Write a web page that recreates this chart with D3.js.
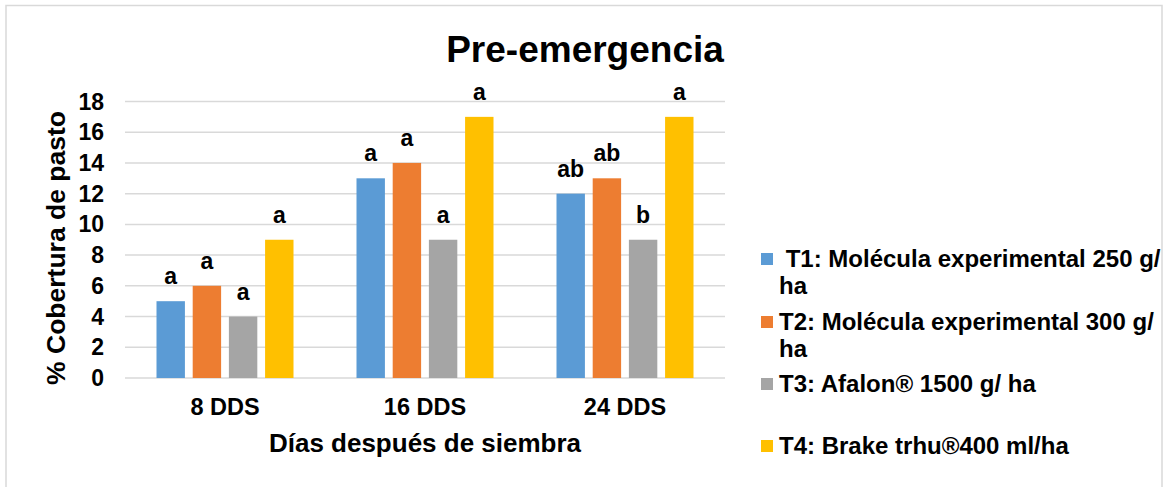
<!DOCTYPE html>
<html lang="es">
	<head>
		<meta charset="utf-8">
		<title>Pre-emergencia</title>
		<style>
			html, body {
				margin: 0;
				background: #fff;
			}
			svg {
				display: block;
				font-family: 'Liberation Sans', Arial, sans-serif;
				font-weight: bold;
			}
		</style>
	</head>
	<body>
		<script src="https://cdn.jsdelivr.net/npm/d3@7/dist/d3.min.js"></script>
		<script>
		const categories = ['8 DDS', '16 DDS', '24 DDS']
		const treatments = ['T1', 'T2', 'T3', 'T4']
		const values = {
			T1: [5, 13, 12],
			T2: [6, 14, 13],
			T3: [4, 9, 9],
			T4: [9, 17, 17]
		}
		const letters = {
			T1: ['a', 'a', 'ab'],
			T2: ['a', 'a', 'ab'],
			T3: ['a', 'a', 'b'],
			T4: ['a', 'a', 'a']
		}
		const legendLines = [
			[' T1: Molécula experimental 250 g/', 'ha'],
			['T2: Molécula experimental 300 g/', 'ha'],
			['T3: Afalon® 1500 g/ ha'],
			['T4: Brake trhu®400 ml/ha']
		]
		const yTicks = [0, 2, 4, 6, 8, 10, 12, 14, 16, 18]

		const colors = ['#5b9bd5', '#ed7d31', '#a5a5a5', '#ffc000']
		const gridColor = '#d9d9d9'
		const w = 1163
		const h = 487

		const svg = d3.select('body').append('svg')
			.attr('width', w)
			.attr('height', h)

		// outer chart frame (bottom edge is cut off in the picture)
		svg.append('path')
			.attr('d', `M 6,${h + 2} V 5.5 H 1162 V ${h + 2}`)
			.attr('fill', 'none')
			.attr('stroke', gridColor)
			.attr('stroke-width', 1.5)

		const x = d3.scaleBand()
			.domain(categories)
			.range([125, 725])
			.paddingInner(0.315)
			.paddingOuter(0.1575)

		const xInner = d3.scaleBand()
			.domain(treatments)
			.range([0, x.bandwidth()])
			.paddingInner(0.215)

		const y = d3.scaleLinear()
			.domain([0, 18])
			.range([378, 101.5])

		const color = d3.scaleOrdinal()
			.domain(treatments)
			.range(colors)

		// gridlines
		svg.append('g').selectAll('line')
			.data(yTicks)
			.join('line')
			.attr('x1', 125)
			.attr('x2', 725)
			.attr('y1', d => y(d))
			.attr('y2', d => y(d))
			.attr('stroke', gridColor)
			.attr('stroke-width', 1.5)

		// y tick labels
		svg.append('g').selectAll('text')
			.data(yTicks)
			.join('text')
			.text(d => d)
			.attr('x', 104)
			.attr('y', d => y(d))
			.attr('dy', '0.35em')
			.attr('text-anchor', 'end')
			.attr('font-size', 23)

		// bars
		const groups = svg.append('g').selectAll('g')
			.data(categories)
			.join('g')
			.attr('transform', d => `translate(${x(d)}, 0)`)

		groups.selectAll('rect')
			.data((d, i) => treatments.map(t => ({ t, v: values[t][i], l: letters[t][i] })))
			.join('rect')
			.attr('x', d => xInner(d.t))
			.attr('y', d => y(d.v))
			.attr('width', xInner.bandwidth())
			.attr('height', d => y(0) - y(d.v))
			.attr('fill', d => color(d.t))

		groups.selectAll('text')
			.data((d, i) => treatments.map(t => ({ t, v: values[t][i], l: letters[t][i] })))
			.join('text')
			.text(d => d.l)
			.attr('x', d => xInner(d.t) + xInner.bandwidth() / 2)
			.attr('y', d => y(d.v) - 17)
			.attr('text-anchor', 'middle')
			.attr('font-size', 23)

		// x tick labels
		svg.append('g').selectAll('text')
			.data(categories)
			.join('text')
			.text(d => d)
			.attr('x', d => x(d) + x.bandwidth() / 2)
			.attr('y', 415)
			.attr('text-anchor', 'middle')
			.attr('font-size', 23.5)

		// titles
		svg.append('text')
			.text('Pre-emergencia')
			.attr('x', 585)
			.attr('y', 62)
			.attr('text-anchor', 'middle')
			.attr('font-size', 37)

		svg.append('text')
			.text('Días después de siembra')
			.attr('x', 425)
			.attr('y', 452)
			.attr('text-anchor', 'middle')
			.attr('font-size', 26)

		svg.append('text')
			.text('% Cobertura de pasto')
			.attr('transform', 'translate(65, 248) rotate(-90)')
			.attr('text-anchor', 'middle')
			.attr('font-size', 26.5)

		// legend
		const legendTop = [253, 316, 378, 440]

		const legend = svg.append('g').selectAll('g')
			.data(treatments)
			.join('g')
			.attr('transform', (d, i) => `translate(761, ${legendTop[i]})`)

		legend.append('rect')
			.attr('width', 12)
			.attr('height', 12)
			.attr('fill', d => color(d))

		legend.append('text')
			.attr('font-size', 24)
			.style('white-space', 'pre')
			.selectAll('tspan')
			.data((d, i) => legendLines[i])
			.join('tspan')
			.attr('x', 18)
			.attr('y', (d, j) => 14 + j * 26.5)
			.text(d => d)
		</script>
	</body>
</html>
